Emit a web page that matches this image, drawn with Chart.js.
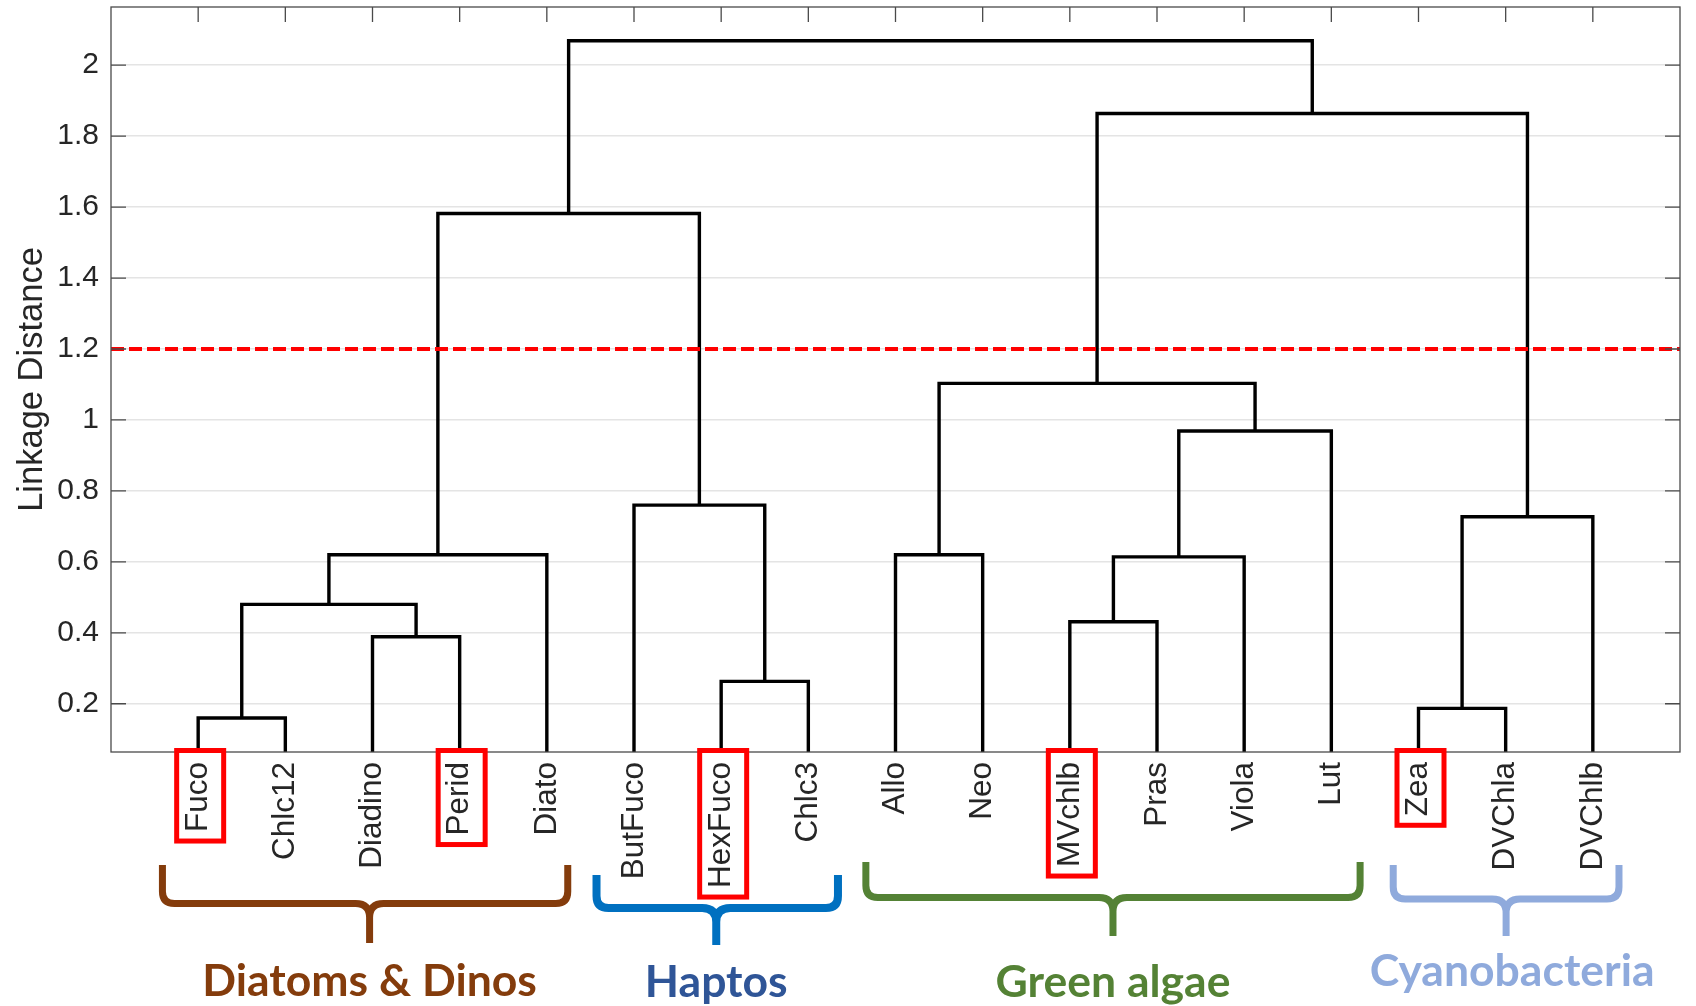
<!DOCTYPE html>
<html>
<head>
<meta charset="utf-8">
<title>Pigment dendrogram</title>
<script src="https://cdn.jsdelivr.net/npm/chart.js@4.4.1/dist/chart.umd.min.js"></script>
<style>
  html, body { margin: 0; padding: 0; background: #ffffff; }
  #wrap { width: 1696px; height: 1006px; }
</style>
</head>
<body>
<div id="wrap"><canvas id="chart" width="1696" height="1006"></canvas></div>
<script>
// ---- data ---------------------------------------------------------------
// Leaf order along the x axis (positions 1..17)
const leafLabels = ['Fuco', 'Chlc12', 'Diadino', 'Perid', 'Diato',
                    'ButFuco', 'HexFuco', 'Chlc3',
                    'Allo', 'Neo', 'MVchlb', 'Pras', 'Viola', 'Lut',
                    'Zea', 'DVChla', 'DVChlb'];

// Agglomeration steps: '#k' refers to the cluster formed at step k
const mergeA = ['Fuco', 'Zea', 'HexFuco', 'Diadino', 'MVchlb', '#1', '#5', '#6',
                'Allo', '#2', 'ButFuco', '#7', '#9', '#8', '#13', '#14'];
const mergeB = ['Chlc12', 'DVChla', 'Chlc3', 'Perid', 'Pras', '#4', 'Viola', 'Diato',
                'Neo', 'DVChlb', '#3', 'Lut', '#12', '#11', '#10', '#15'];
const mergeHeight = [0.160, 0.187, 0.263, 0.389, 0.431, 0.480, 0.614, 0.620,
                     0.620, 0.727, 0.760, 0.969, 1.103, 1.582, 1.864, 2.069];

const cutHeight = 1.2;

const yTicks = [0.2, 0.4, 0.6, 0.8, 1, 1.2, 1.4, 1.6, 1.8, 2];
const yTickLabels = ['0.2', '0.4', '0.6', '0.8', '1', '1.2', '1.4', '1.6', '1.8', '2'];

const markedLeaves = ['Fuco', 'Perid', 'HexFuco', 'MVchlb', 'Zea'];

const groupNames = ['Diatoms & Dinos', 'Haptos', 'Green algae', 'Cyanobacteria'];
const groupFirst = ['Fuco', 'ButFuco', 'Allo', 'Zea'];
const groupLast  = ['Diato', 'Chlc3', 'Lut', 'DVChlb'];

// ---- appearance ---------------------------------------------------------
const Y_MIN = 0.064, Y_MAX = 2.164;
const AXIS_GRAY = '#262626';
const LABEL_FONT = '"Liberation Sans", Arial, Helvetica, sans-serif';
const LEAF_SIZE = 31.5;
const TICK_SIZE = 30;
const LABEL_PAD = 10;

// brace / caption layout per group (x extents in axis units relative to the group's leaves)
const groupStyle = [
  { padL: 0.41, padR: 0.24, mid: 4.5, textDx: 0, top: 865, bar: 903.5, tip: 943, base: 996, lw: 7, brace: '#843C0C', text: '#843C0C' },
  { padL: 0.43, padR: 0.34, mid: -1,  textDx: 0, top: 875, bar: 908,   tip: 945, base: 997, lw: 8, brace: '#0070C0', text: '#2F5597' },
  { padL: 0.34, padR: 0.33, mid: 0,   textDx: 0, top: 862, bar: 897.5, tip: 936, base: 997, lw: 7, brace: '#548235', text: '#548235' },
  { padL: 0.29, padR: 0.30, mid: 0,   textDx: 6, top: 865, bar: 899,   tip: 936, base: 986, lw: 7, brace: '#8FAADC', text: '#8FAADC' }
];

// ---- build the U-shaped links -------------------------------------------
const nodeX = {}, nodeH = {};
leafLabels.forEach((name, i) => { nodeX[name] = i + 1; nodeH[name] = 0; });
const links = mergeA.map((a, k) => {
  const b = mergeB[k], h = mergeHeight[k];
  const pts = [
    { x: nodeX[a], y: nodeH[a] },
    { x: nodeX[a], y: h },
    { x: nodeX[b], y: h },
    { x: nodeX[b], y: nodeH[b] }
  ];
  const id = '#' + (k + 1);
  nodeX[id] = (nodeX[a] + nodeX[b]) / 2;
  nodeH[id] = h;
  return pts;
});

const lineDefaults = { showLine: true, pointRadius: 0, pointHoverRadius: 0, tension: 0, clip: 0,
                       borderJoinStyle: 'miter', borderCapStyle: 'butt', fill: false };

const datasets = [
  Object.assign({}, lineDefaults, {
    data: [{ x: 0, y: cutHeight }, { x: leafLabels.length + 1, y: cutHeight }],
    borderColor: '#ff0000', borderWidth: 4, borderDash: [13, 5], order: 0
  }),
  ...links.map(pts => Object.assign({}, lineDefaults, {
    data: pts, borderColor: '#000000', borderWidth: 3.4, order: 1
  }))
];

// ---- plugins ------------------------------------------------------------
const whiteBackground = {
  id: 'whiteBackground',
  beforeDraw(chart) {
    const ctx = chart.ctx;
    ctx.save();
    ctx.fillStyle = '#ffffff';
    ctx.fillRect(0, 0, chart.width, chart.height);
    ctx.restore();
  }
};

// axes box with inward tick marks on all sides
const axesBox = {
  id: 'axesBox',
  afterDatasetsDraw(chart) {
    const { ctx, chartArea: { left, right, top, bottom }, scales: { x, y } } = chart;
    const TL = 15;
    ctx.save();
    ctx.strokeStyle = '#4a4a4a';
    ctx.lineWidth = 1.3;
    ctx.beginPath();
    yTicks.forEach(v => {
      const py = y.getPixelForValue(v);
      ctx.moveTo(left, py); ctx.lineTo(left + TL, py);
      ctx.moveTo(right, py); ctx.lineTo(right - TL, py);
    });
    leafLabels.forEach((_, i) => {
      const px = x.getPixelForValue(i + 1);
      ctx.moveTo(px, top); ctx.lineTo(px, top + TL);
    });
    ctx.stroke();
    ctx.strokeRect(left, top, right - left, bottom - top);
    ctx.restore();
  }
};

// red frames around highlighted leaf labels
const leafFrames = {
  id: 'leafFrames',
  afterDraw(chart) {
    const { ctx, chartArea: { bottom }, scales: { x } } = chart;
    ctx.save();
    ctx.font = LEAF_SIZE + 'px ' + LABEL_FONT;
    ctx.strokeStyle = '#ff0000';
    ctx.lineWidth = 5;
    ctx.lineJoin = 'miter';
    markedLeaves.forEach(name => {
      const i = leafLabels.indexOf(name);
      const px = x.getPixelForValue(i + 1);
      const w = ctx.measureText(name).width;
      const y0 = bottom - 1.5;
      const y1 = bottom + LABEL_PAD + w + 9;
      ctx.strokeRect(px - 21.5, y0, 47, y1 - y0);
    });
    ctx.restore();
  }
};

// curly braces and captions for the pigment groups
const groupBraces = {
  id: 'groupBraces',
  afterDraw(chart) {
    const { ctx, scales: { x } } = chart;
    ctx.save();
    groupNames.forEach((name, g) => {
      const s = groupStyle[g];
      const xl = x.getPixelForValue(leafLabels.indexOf(groupFirst[g]) + 1 - s.padL);
      const xr = x.getPixelForValue(leafLabels.indexOf(groupLast[g]) + 1 + s.padR);
      const xc = (xl + xr) / 2 + s.mid;
      const r = 12, r2 = 14;
      ctx.strokeStyle = s.brace;
      ctx.lineWidth = s.lw;
      ctx.lineCap = 'butt';
      ctx.lineJoin = 'round';
      ctx.beginPath();
      ctx.moveTo(xl, s.top);
      ctx.lineTo(xl, s.bar - r);
      ctx.quadraticCurveTo(xl, s.bar, xl + r, s.bar);
      ctx.lineTo(xc - r2, s.bar);
      ctx.quadraticCurveTo(xc, s.bar, xc, s.bar + r2);
      ctx.lineTo(xc, s.tip);
      ctx.moveTo(xr, s.top);
      ctx.lineTo(xr, s.bar - r);
      ctx.quadraticCurveTo(xr, s.bar, xr - r, s.bar);
      ctx.lineTo(xc + r2, s.bar);
      ctx.quadraticCurveTo(xc, s.bar, xc, s.bar + r2);
      ctx.stroke();

      ctx.fillStyle = s.text;
      ctx.font = 'bold 44.5px Lato, "Open Sans", sans-serif';
      ctx.textAlign = 'center';
      ctx.textBaseline = 'alphabetic';
      ctx.fillText(name, xc + s.textDx, s.base);
    });
    ctx.restore();
  }
};

// ---- chart --------------------------------------------------------------
Chart.defaults.font.family = LABEL_FONT;
Chart.defaults.color = AXIS_GRAY;

new Chart(document.getElementById('chart'), {
  type: 'scatter',
  data: { datasets },
  options: {
    responsive: false,
    animation: false,
    devicePixelRatio: 1,
    layout: { padding: { top: 7, right: 16, left: 0, bottom: 0 } },
    plugins: { legend: { display: false }, tooltip: { enabled: false } },
    scales: {
      x: {
        type: 'linear',
        min: 0,
        max: leafLabels.length + 1,
        grid: { display: false, drawTicks: false },
        border: { display: false },
        afterBuildTicks(scale) { scale.ticks = leafLabels.map((_, i) => ({ value: i + 1 })); },
        ticks: {
          autoSkip: false,
          minRotation: 90,
          maxRotation: 90,
          padding: LABEL_PAD,
          color: AXIS_GRAY,
          font: { size: LEAF_SIZE },
          callback: (value) => leafLabels[Math.round(value) - 1]
        },
        afterFit(scale) {
          scale.height = 254;
          scale.paddingLeft = 0; scale.paddingRight = 0;
          scale.paddingTop = 0; scale.paddingBottom = 0;
        }
      },
      y: {
        type: 'linear',
        min: Y_MIN,
        max: Y_MAX,
        grid: { display: true, drawTicks: false, color: '#e4e4e4', lineWidth: 1.5 },
        border: { display: false },
        afterBuildTicks(scale) { scale.ticks = yTicks.map(v => ({ value: v })); },
        ticks: {
          padding: 12,
          color: AXIS_GRAY,
          font: { size: TICK_SIZE },
          callback: (value, index) => yTickLabels[index]
        },
        title: {
          display: true,
          text: 'Linkage Distance',
          color: AXIS_GRAY,
          font: { size: 34.5 },
          padding: { top: 12, bottom: 0 }
        },
        afterFit(scale) {
          scale.width = 111;
          scale.paddingLeft = 0; scale.paddingRight = 0;
          scale.paddingTop = 0; scale.paddingBottom = 0;
        }
      }
    }
  },
  plugins: [whiteBackground, axesBox, leafFrames, groupBraces]
});
</script>
</body>
</html>
